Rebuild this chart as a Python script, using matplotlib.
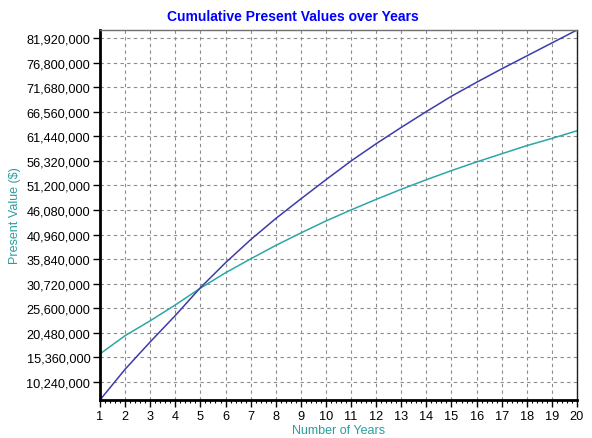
import numpy as np
import matplotlib
matplotlib.use("Agg")
import matplotlib.pyplot as plt
from matplotlib.ticker import FuncFormatter, MultipleLocator

plt.rcParams['font.family'] = ['Liberation Sans', 'DejaVu Sans']

# data
years = list(range(1, 21))
pv_purple = [6.5, 12.9, 18.6, 24.1, 29.9, 35.1, 39.9, 44.3, 48.4, 52.4,
             56.3, 59.9, 63.3, 66.6, 69.8, 72.7, 75.5, 78.2, 80.9, 83.6]
pv_teal = [16.1, 19.9, 23.0, 26.3, 29.8, 33.0, 35.9, 38.7, 41.3, 43.8,
           46.1, 48.3, 50.4, 52.4, 54.3, 56.1, 57.8, 59.5, 61.0, 62.6]
pv_purple = np.array(pv_purple) * 1e6
pv_teal = np.array(pv_teal) * 1e6
y_ticks = [10240000 + 5120000 * i for i in range(15)]

fig = plt.figure(figsize=(5.92, 4.39), dpi=100)
ax = fig.add_axes([100/592, 1 - 401/439, 477/592, 370/439])

ax.plot(years, pv_teal, color="#2EA6A6", lw=1.1)
ax.plot(years, pv_purple, color="#3C3CAA", lw=1.1)

ax.set_xlim(1, 20)
ax.set_ylim(6.49e6, 83.6e6)
ax.set_xticks(years)
ax.xaxis.set_minor_locator(MultipleLocator(0.2))
ax.set_yticks(y_ticks)
ax.yaxis.set_major_formatter(FuncFormatter(lambda v, p: "{:,.0f}".format(v)))

ax.grid(True, which="major", color="#8c8c8c", linestyle=(0, (3, 3)), linewidth=0.8)
ax.tick_params(axis="both", which="major", labelsize=9.2, length=5, width=1, colors="black", pad=2)
ax.tick_params(axis="x", which="minor", length=2.5, width=0.8)

for s in ["left", "bottom"]:
    ax.spines[s].set_linewidth(2)
    ax.spines[s].set_color("black")
ax.spines["top"].set_color("#707070")
ax.spines["top"].set_linewidth(1)
ax.spines["right"].set_color("#202020")
ax.spines["right"].set_linewidth(1)

ax.set_xlabel("Number of Years", color="#2A9E9E", fontsize=9, labelpad=2)
ax.set_ylabel("Present Value ($)", color="#2A9E9E", fontsize=9, labelpad=4)
fig.text(0.494, 1 - 17/439, "Cumulative Present Values over Years",
         color="#0000FF", fontsize=10, fontweight="bold", ha="center", va="center")

plt.savefig("out.png", dpi=100)
